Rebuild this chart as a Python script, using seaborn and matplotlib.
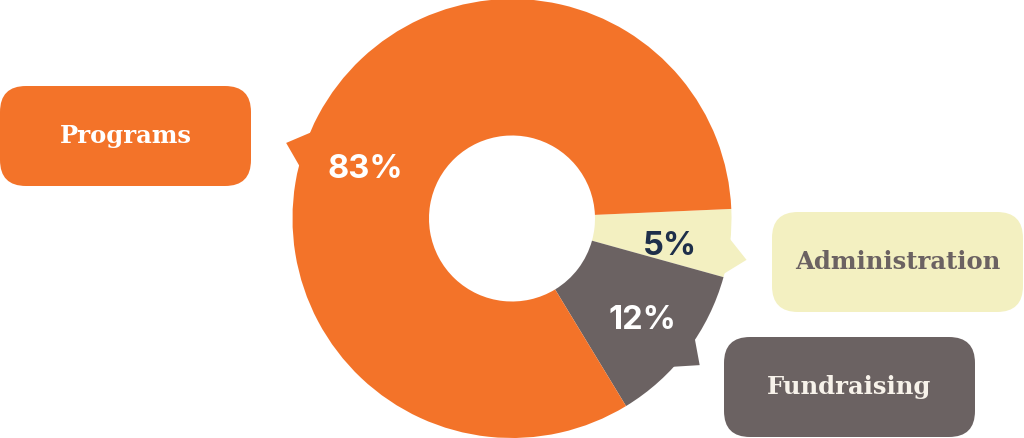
import matplotlib
matplotlib.use("Agg")
import matplotlib.pyplot as plt
import seaborn as sns
import numpy as np
from matplotlib.patches import FancyBboxPatch, Polygon

# ---- data ----
categories = ["Administration", "Fundraising", "Programs"]
shares = [5, 12, 83]
pct_labels = ["5%", "12%", "83%"]

# ---- style ----
colors = ["#F3F0C1", "#6B6262", "#F37329"]
pct_colors = ["#1E2F4A", "#FFFFFF", "#FFFFFF"]
box_text_colors = ["#6B6262", "#F7F2EA", "#FFFFFF"]
pointer_angles = [-10.0, -38.0, 161.5]      # direction of label / tail per category
label_radius = [160, 166, 155]
box_xy = [(772, 126), (724, 1), (0, 252)]     # lower-left corners of label boxes
box_w, box_h = 251, 100

sns.set_theme(style="white")
plt.rcParams['font.family'] = ['DejaVu Sans']

W, H = 1024, 438
fig = plt.figure(figsize=(W / 100, H / 100), dpi=100)
ax = fig.add_axes([0, 0, 1, 1])
cx, cy = 512, 219.5
R, r_in = 219.5, 83
start = 2.5

ax.pie(shares, colors=colors, startangle=start, counterclock=False,
       center=(cx, cy), radius=R,
       wedgeprops=dict(width=R - r_in, linewidth=0), frame=False)

# speech-bubble tails on the wedges
for a, c in zip(pointer_angles, colors):
    hw = 5.3
    pts = []
    for ang, rr in [(a - hw, R - 3), (a, R * 1.085), (a + hw, R - 3)]:
        t = np.deg2rad(ang)
        pts.append((cx + rr * np.cos(t), cy + rr * np.sin(t)))
    ax.add_patch(Polygon(pts, closed=True, facecolor=c, edgecolor='none', zorder=1))

# percentage labels
for a, rr, lab, tc in zip(pointer_angles, label_radius, pct_labels, pct_colors):
    t = np.deg2rad(a)
    ax.text(cx + rr * np.cos(t), cy + rr * np.sin(t), lab, color=tc,
            fontsize=23.5, fontweight='bold', family=['Inter', 'DejaVu Sans'],
            ha='center', va='center', zorder=3)

# label boxes
for (bx, by), cat, c, tc in zip(box_xy, categories, colors, box_text_colors):
    ax.add_patch(FancyBboxPatch((bx, by), box_w, box_h,
                                boxstyle="round,pad=0,rounding_size=26",
                                facecolor=c, edgecolor='none', zorder=2))
    ax.text(bx + box_w / 2, by + box_h / 2, cat, color=tc, fontsize=17.5,
            fontweight='bold', family=['DejaVu Serif'],
            ha='center', va='center', zorder=3)

ax.set_xlim(0, W)
ax.set_ylim(0, H)
ax.set_aspect('equal')
ax.axis('off')
fig.savefig("out.png", dpi=100, facecolor="white")
